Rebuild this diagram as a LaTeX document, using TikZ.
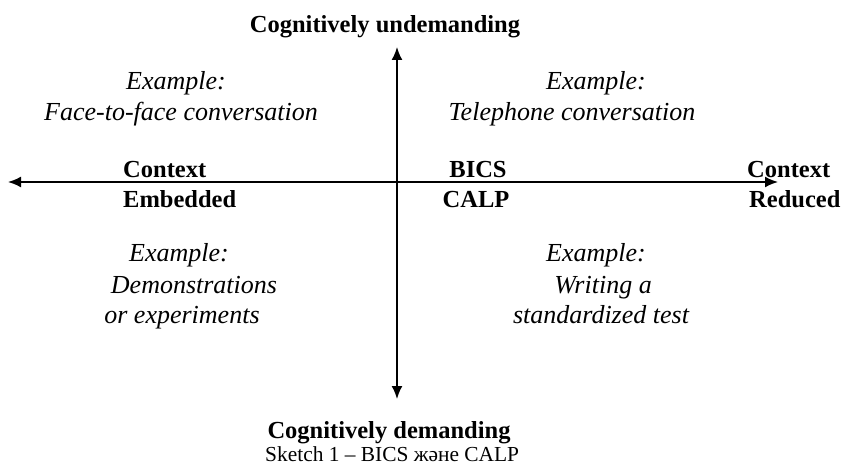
\documentclass[tikz,border=0pt]{standalone}
\usepackage{fontspec}
\setmainfont{Liberation Serif}
\usepackage{tikz}
\usetikzlibrary{positioning,arrows.meta}

\begin{document}
\begin{tikzpicture}[x=1pt,y=-1pt,
  lbl/.style={font=\bfseries\fontsize{24.5}{28}\selectfont,inner sep=0pt,anchor=base},
  ex/.style={font=\itshape\fontsize{26}{30}\selectfont,inner sep=0pt,anchor=base},
  axis/.style={black,line width=1.8pt,{Latex[length=13pt,width=11pt]}-{Latex[length=13pt,width=11pt]}}]
\useasboundingbox (0,0) rectangle (842,468);
\coordinate (W) at (8,182);
\coordinate (E) at (778,182);
\coordinate (N) at (397,47);
\coordinate (S) at (397,399);
\draw[axis] (W) -- (E);
\draw[axis] (N) -- (S);

\node[lbl] (undem) at (385,33) {Cognitively undemanding};
\node[lbl] (dem) at (389,438) {Cognitively demanding};
\node[font=\fontsize{21.4}{24}\selectfont,inner sep=0pt,anchor=base west] (cap) at (265,461) {Sketch 1 – BICS және CALP};

\node[ex] (exA) at (176,90) {Example:};
\node[ex] (faceA) at (181,121) {Face-to-face conversation};
\node[ex] (exB) at (596,90) {Example:};
\node[ex] (telB) at (572,121) {Telephone conversation};

\node[lbl,anchor=base west] (ctxL) at (123,177) {Context};
\node[lbl,anchor=base west] (embL) at (123,207) {Embedded};
\node[lbl] (bics) at (478,177) {BICS};
\node[lbl] (calp) at (476,207) {CALP};
\node[lbl,anchor=base west] (ctxR) at (747,177) {Context};
\node[lbl,anchor=base west] (redR) at (749,207) {Reduced};

\node[ex] (exC) at (179,261) {Example:};
\node[ex] (demC) at (194,293) {Demonstrations};
\node[ex] (expC) at (182,323) {or experiments};
\node[ex] (exD) at (596,261) {Example:};
\node[ex] (wriD) at (603,293) {Writing a};
\node[ex] (stdD) at (601,323) {standardized test};
\end{tikzpicture}
\end{document}
